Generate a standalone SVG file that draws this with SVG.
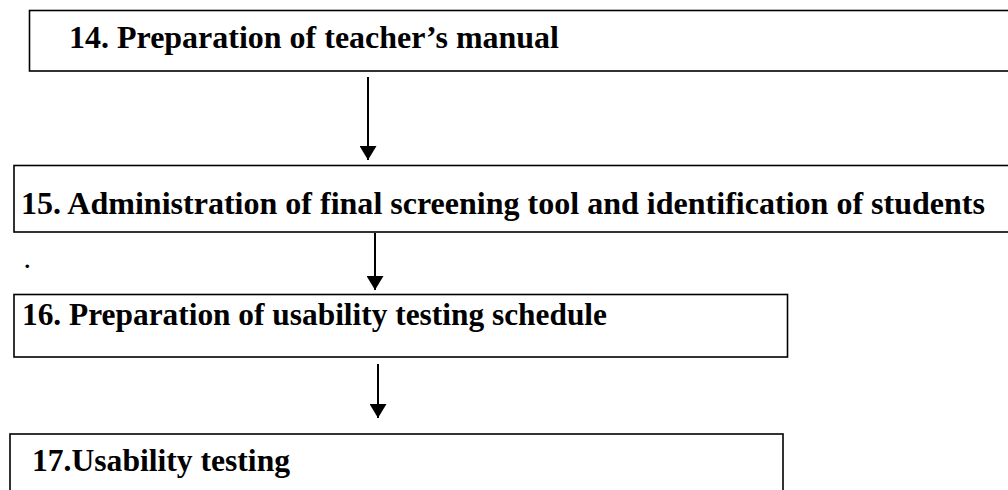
<svg xmlns="http://www.w3.org/2000/svg" width="1008" height="490" viewBox="0 0 1008 490">
  <style>
    .box { fill: #fff; stroke: #000; stroke-width: 1.6; }
    .label { font-family: "Liberation Serif", "Times New Roman", serif; font-weight: bold; font-size: 32px; fill: #000; }
    .link { stroke: #000; stroke-width: 2; fill: none; }
  </style>
  <defs>
    <marker id="head" viewBox="0 0 14 17" refX="14" refY="8.5" markerWidth="14" markerHeight="17" markerUnits="userSpaceOnUse" orient="auto">
      <path d="M0,0 L14,8.5 L0,17 Z" fill="#000"/>
    </marker>
  </defs>
  <rect width="1008" height="490" fill="#fff"/>

  <g id="step14">
    <rect class="box" x="29.5" y="10.5" width="1000" height="60.5"/>
    <text class="label" x="69" y="48" textLength="490" lengthAdjust="spacingAndGlyphs">14. Preparation of teacher’s manual</text>
  </g>

  <g id="step15">
    <rect class="box" x="14" y="165.5" width="1000" height="66.5"/>
    <text class="label" x="21" y="214" textLength="964" lengthAdjust="spacingAndGlyphs">15. Administration of final screening tool and identification of students</text>
  </g>

  <g id="step16">
    <rect class="box" x="14" y="294.5" width="773.5" height="62.5"/>
    <text class="label" x="22" y="325" textLength="585" lengthAdjust="spacingAndGlyphs">16. Preparation of usability testing schedule</text>
  </g>

  <g id="step17">
    <rect class="box" x="10" y="434" width="773" height="70"/>
    <text class="label" x="32" y="471" textLength="258" lengthAdjust="spacingAndGlyphs">17.Usability testing</text>
  </g>

  <text x="24.5" y="268" font-family="Liberation Serif, serif" font-weight="bold" font-size="22" fill="#000">.</text>

  <g id="connectors">
    <line class="link" x1="368" y1="77" x2="368" y2="160" marker-end="url(#head)"/>
    <line class="link" x1="375" y1="233" x2="375" y2="290" marker-end="url(#head)"/>
    <line class="link" x1="378" y1="364" x2="378" y2="418" marker-end="url(#head)"/>
  </g>
</svg>
